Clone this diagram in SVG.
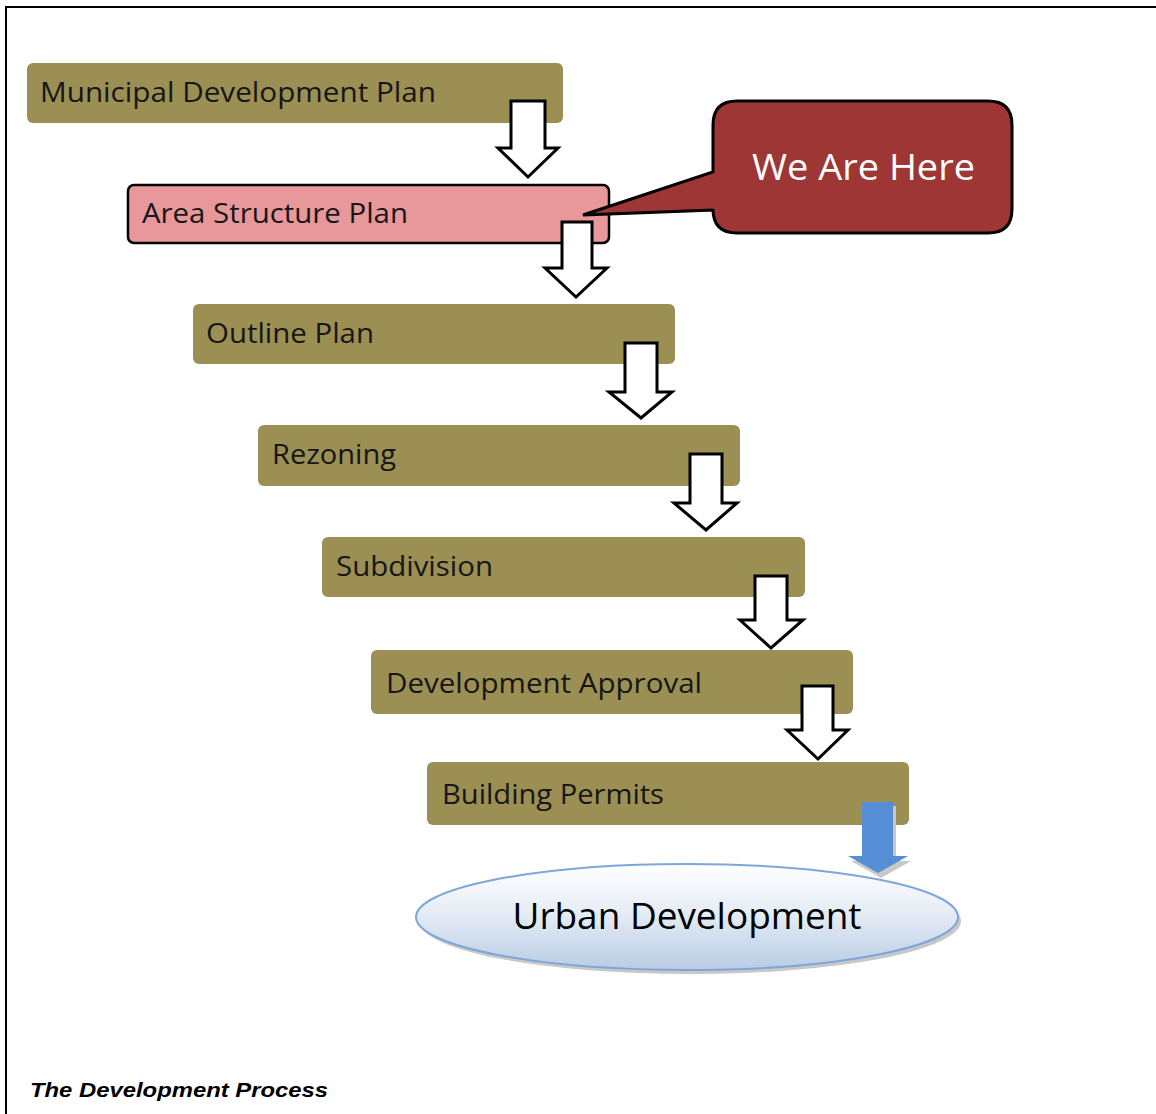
<svg xmlns="http://www.w3.org/2000/svg" width="1156" height="1114" viewBox="0 0 1156 1114">
  <defs>
    <style>
      .step { fill: #9b8f53; }
      .label { font-family: "Open Sans", "Noto Sans", sans-serif; font-size: 27px; fill: #161616; }
      .flow { fill: #ffffff; stroke: #000000; stroke-width: 3; stroke-linejoin: miter; }
      .caption { font-family: "Liberation Sans", Arial, sans-serif; font-size: 21px; font-weight: bold; font-style: italic; fill: #000000; }
    </style>
    <linearGradient id="ovalFill" x1="0" y1="0" x2="0" y2="1">
      <stop offset="0" stop-color="#ffffff"/>
      <stop offset="0.45" stop-color="#e6edf6"/>
      <stop offset="1" stop-color="#b9cce4"/>
    </linearGradient>
  </defs>

  <rect x="0" y="0" width="1156" height="1114" fill="#ffffff"/>

  <!-- page frame -->
  <path d="M6 1114 V7 H1156" fill="none" stroke="#000000" stroke-width="2"/>

  <!-- process steps -->
  <g id="node-municipal">
    <rect class="step" x="27" y="63" width="536" height="60" rx="6"/>
    <text class="label" x="40" y="102" textLength="396" lengthAdjust="spacingAndGlyphs">Municipal Development Plan</text>
  </g>
  <g id="node-area-structure">
    <rect x="128" y="185" width="481" height="58" rx="6" fill="#e8979b" stroke="#000000" stroke-width="2.5"/>
    <text class="label" x="142" y="223" textLength="266" lengthAdjust="spacingAndGlyphs">Area Structure Plan</text>
  </g>
  <g id="node-outline">
    <rect class="step" x="193" y="304" width="482" height="60" rx="6"/>
    <text class="label" x="206" y="343" textLength="168" lengthAdjust="spacingAndGlyphs">Outline Plan</text>
  </g>
  <g id="node-rezoning">
    <rect class="step" x="258" y="425" width="482" height="61" rx="6"/>
    <text class="label" x="272" y="464" textLength="124" lengthAdjust="spacingAndGlyphs">Rezoning</text>
  </g>
  <g id="node-subdivision">
    <rect class="step" x="322" y="537" width="483" height="60" rx="6"/>
    <text class="label" x="336" y="576" textLength="157" lengthAdjust="spacingAndGlyphs">Subdivision</text>
  </g>
  <g id="node-dev-approval">
    <rect class="step" x="371" y="650" width="482" height="64" rx="6"/>
    <text class="label" x="386" y="693" textLength="316" lengthAdjust="spacingAndGlyphs">Development Approval</text>
  </g>
  <g id="node-building-permits">
    <rect class="step" x="427" y="762" width="482" height="63" rx="6"/>
    <text class="label" x="442" y="804" textLength="222" lengthAdjust="spacingAndGlyphs">Building Permits</text>
  </g>

  <!-- connectors: hollow block arrows and final blue arrow -->
  <g id="connectors">
    <path class="flow" d="M511 101 H545 V148 H558 L528 177 L498 148 H511 Z"/>
    <path class="flow" d="M562 222 H592 V268 H607 L576 297 L545 268 H562 Z"/>
    <path class="flow" d="M625 343 H657 V392 H672 L641 418 L609 392 H625 Z"/>
    <path class="flow" d="M690 454 H722 V503 H737 L706 530 L674 503 H690 Z"/>
    <path class="flow" d="M755 576 H787 V620 H803 L771 648 L740 620 H755 Z"/>
    <path class="flow" d="M802 686 H833 V730 H848 L818 759 L787 730 H802 Z"/>
    <path d="M865 806 H896 V861 H911 L881 878 L851 861 H865 Z" fill="#c8c8c8"/>
    <path d="M862 802 H893 V856 H908 L878 873 L848 856 H862 Z" fill="#558ed5"/>
  </g>

  <!-- outcome -->
  <g id="node-urban-development">
    <ellipse cx="690" cy="921" rx="271" ry="53" fill="#b0b0b0" opacity="0.7"/>
    <ellipse cx="687" cy="917" rx="271" ry="53" fill="url(#ovalFill)" stroke="#7ea6d6" stroke-width="2"/>
    <text x="687" y="929" text-anchor="middle" font-family="'Open Sans', 'Noto Sans', sans-serif" font-size="36" fill="#000000" textLength="349" lengthAdjust="spacingAndGlyphs">Urban Development</text>
  </g>

  <!-- callout -->
  <g id="callout-we-are-here">
    <path d="M737 101 H988 Q1012 101 1012 125 V209 Q1012 233 988 233 H737 Q713 233 713 209 V210 L583 215 L713 172 V125 Q713 101 737 101 Z" fill="#9f3636" stroke="#000000" stroke-width="3" stroke-linejoin="miter"/>
    <text x="752" y="180" font-family="'Open Sans', 'Noto Sans', sans-serif" font-size="36" fill="#ffffff" textLength="223" lengthAdjust="spacingAndGlyphs">We Are Here</text>
  </g>

  <text class="caption" x="30" y="1097" textLength="298" lengthAdjust="spacingAndGlyphs">The Development Process</text>
</svg>
